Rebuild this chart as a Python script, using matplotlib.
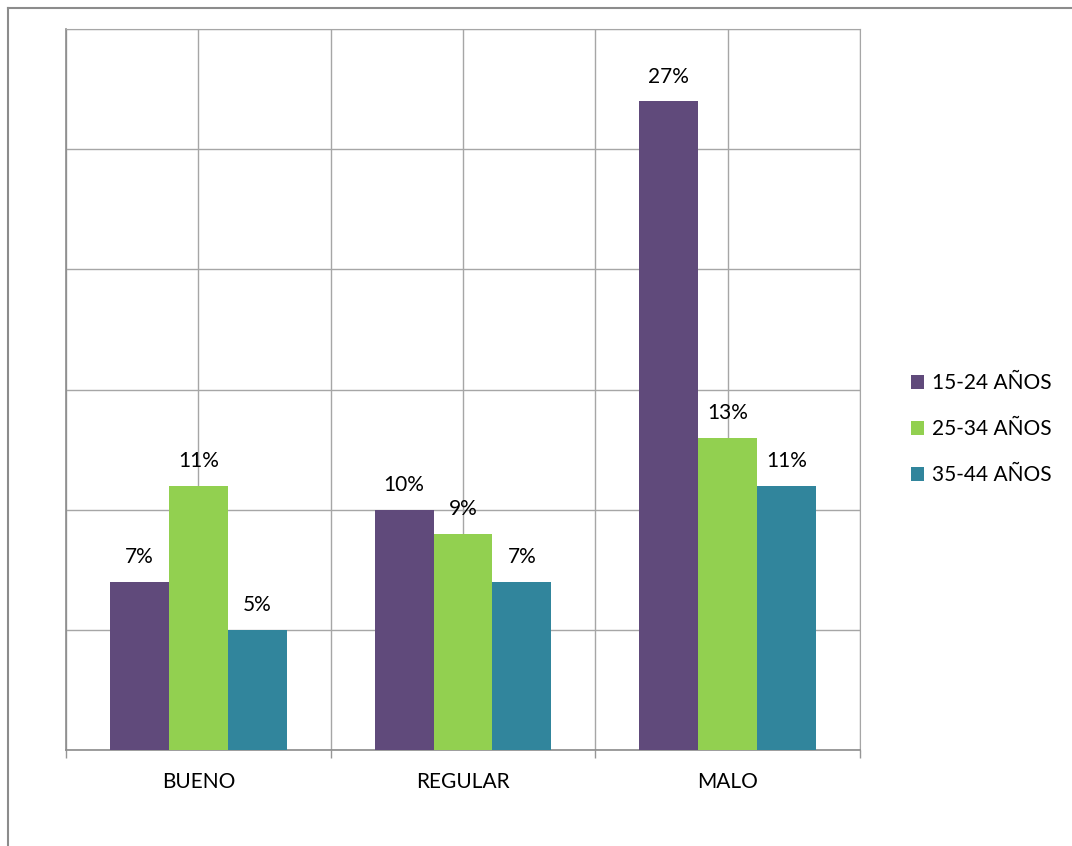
import matplotlib.pyplot as plt
import numpy as np
from matplotlib.lines import Line2D

categories = ["BUENO", "REGULAR", "MALO"]
series = ["15-24 AÑOS", "25-34 AÑOS", "35-44 AÑOS"]
values = [
    [0.07, 0.10, 0.27],   # 15-24
    [0.11, 0.09, 0.13],   # 25-34
    [0.05, 0.07, 0.11],   # 35-44
]
colors = ["#604A7B", "#92D050", "#31859C"]

plt.rcParams['font.family'] = ['Lato', 'DejaVu Sans']

W, H = 1072, 846
fig = plt.figure(figsize=(W / 100, H / 100), dpi=100)
ax = fig.add_axes([66 / W, (H - 750) / H, (860 - 66) / W, (750 - 29) / H])

x = np.arange(len(categories))
bw = 1 / 4.5
for i, (name, vals) in enumerate(zip(series, values)):
    bars = ax.bar(x + (i - 1) * bw, vals, bw, color=colors[i], label=name, zorder=3)
    for b, v in zip(bars, vals):
        ax.text(b.get_x() + b.get_width() / 2, v + 0.006, f"{v:.0%}",
                ha="center", va="bottom", fontsize=15, color="black")

ax.set_xlim(-0.5, 2.5)
ax.set_ylim(0, 0.30)
ax.set_yticks(np.arange(0, 0.301, 0.05))
ax.set_yticklabels([])
ax.tick_params(axis='y', length=0)

ax.set_xticks([-0.5, 0.5, 1.5, 2.5])
ax.set_xticklabels([])
ax.set_xticks(x, minor=True)
ax.set_xticklabels(categories, minor=True, fontsize=15)
ax.tick_params(axis='x', which='major', length=6, width=1, color="#969696", direction='out')
ax.tick_params(axis='x', which='minor', length=0, pad=16)

ax.grid(True, which='both', color="#A6A6A6", linewidth=1, zorder=0)
ax.set_axisbelow(True)
for side in ["top", "right"]:
    ax.spines[side].set_color("#A6A6A6")
for side in ["left", "bottom"]:
    ax.spines[side].set_color("#8C8C8C")
    ax.spines[side].set_linewidth(1.2)

leg = fig.legend(loc="center left", bbox_to_anchor=(892 / W, (H - 429) / H),
                 frameon=False, fontsize=15, handlelength=0.65, handleheight=0.65,
                 handletextpad=0.35, labelspacing=1.25)

# outer chart frame
fig.add_artist(Line2D([8 / W, 8 / W], [0, (H - 8) / H], color="#8C8C8C", lw=1.5))
fig.add_artist(Line2D([8 / W, 1], [(H - 8) / H, (H - 8) / H], color="#8C8C8C", lw=1.5))

fig.savefig("out.png", dpi=100)
